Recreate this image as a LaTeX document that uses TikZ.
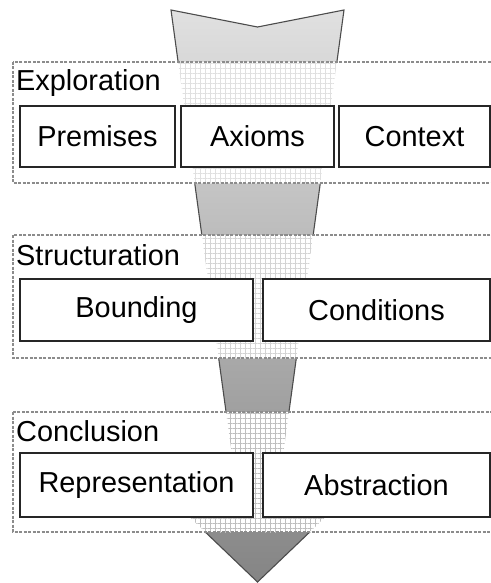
\documentclass[tikz,border=0pt]{standalone}
\usepackage{fontspec}
\setmainfont{Liberation Sans}
\usetikzlibrary{patterns.meta}

\tikzset{
  txt/.style={font=\fontsize{29}{32}\selectfont, inner sep=0pt},
  itembox/.style={draw=black!85, line width=1.8bp, fill=white, inner sep=0pt,
    font=\fontsize{29}{32}\selectfont},
  panel/.style={draw=black!45, line width=1.2bp, dash pattern=on 3bp off 1.5bp},
  panelfill/.style={fill=white},
  gridA/.style={pattern={Hatch[distance=5bp, angle=0, line width=0.4bp]}, pattern color=black!12},
  gridB/.style={pattern={Hatch[distance=5bp, angle=0, line width=0.4bp]}, pattern color=black!17},
  gridC/.style={pattern={Hatch[distance=5bp, angle=0, line width=0.4bp]}, pattern color=black!25},
  flow/.style={top color=black!12, bottom color=black!48, draw=black!70, line width=1.1bp}
}

% outline of the tapering flow arrow
\def\flowpath{(171,10) -- (257.5,27) -- (344,10) -- (274.7,516) -- (326.5,516)
  -- (257.5,582) -- (188.5,516) -- (240.3,516) -- cycle}

\begin{document}
\begin{tikzpicture}[x=1bp, y=-1bp]
\useasboundingbox (0,0) rectangle (491,583);

% the flow arrow
\shade[flow] \flowpath;

% panel backgrounds
\fill[panelfill] (13,62) rectangle (520,183);
\fill[panelfill] (13,235) rectangle (520,358);
\fill[panelfill] (13,412) rectangle (520,532);

% arrow seen through the panels as a light grid
\begin{scope}
  \clip \flowpath;
  \fill[gridA] (13,62) rectangle (520,183);
  \fill[gridB] (13,235) rectangle (520,358);
  \fill[gridC] (13,412) rectangle (520,532);
\end{scope}

% panel frames
\draw[panel] (13,62) rectangle (520,183);
\draw[panel] (13,235) rectangle (520,358);
\draw[panel] (13,412) rectangle (520,532);

% panel titles
\node[txt, anchor=base west] (explo) at (16,91) {Exploration};
\node[txt, anchor=base west] (struct) at (16,265) {Structuration};
\node[txt, anchor=base west] (concl) at (16,441) {Conclusion};

% stage items
\node[itembox, minimum width=155bp, minimum height=61bp] (prem) at (97.5,136.5) {Premises};
\node[itembox, minimum width=153bp, minimum height=61bp] (axio) at (257.5,136.5) {Axioms};
\node[itembox, minimum width=151bp, minimum height=61bp] (cont) at (414.5,136.5) {Context};

\node[itembox, minimum width=233bp, minimum height=62bp] (bound) at (136.5,310) {Bounding};
\node[itembox, minimum width=227bp, minimum height=62bp] (cond) at (376.5,310) {Conditions};

\node[itembox, minimum width=233bp, minimum height=64bp] (repr) at (136.5,485) {Representation};
\node[itembox, minimum width=227bp, minimum height=64bp] (abst) at (376.5,485) {Abstraction};
\end{tikzpicture}
\end{document}
